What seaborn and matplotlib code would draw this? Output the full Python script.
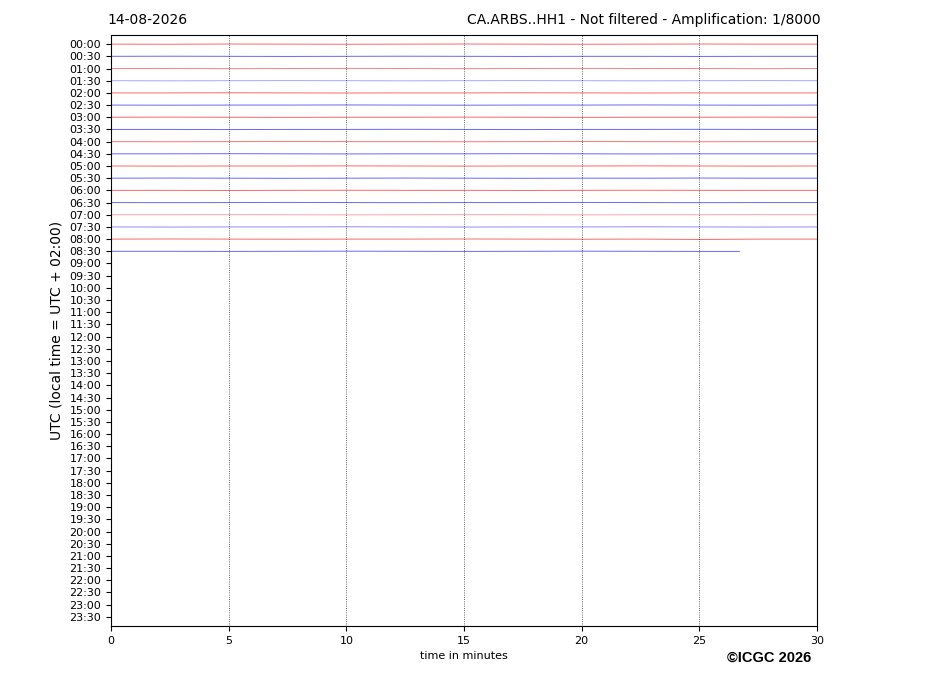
import numpy as np
import pandas as pd
import matplotlib
matplotlib.use("Agg")
import matplotlib.pyplot as plt
import seaborn as sns

# helicorder rows: 30-minute lines starting at 00:00
row_labels = [f"{h:02d}:{m:02d}" for h in range(24) for m in (0, 30)]

# recorded rows (00:00 .. 08:30); the last row stops early
trace_rows = list(range(18))
trace_end = [30.0] * 17 + [26.7]

sample_minutes = [0, 2.5, 5, 7.5, 10, 12.5, 15, 17.5, 20, 22.5, 25, 27.5, 30]
trace_offsets = [
    [0.00, 0.01, -0.01, 0.00, 0.01, 0.00, -0.01, 0.00, 0.01, 0.00, -0.01, 0.00, 0.00],
    [0.00, -0.01, 0.00, 0.01, 0.00, -0.01, 0.00, 0.01, 0.00, 0.00, 0.01, 0.00, 0.00],
    [0.00, 0.00, 0.01, 0.00, -0.01, 0.00, 0.01, 0.00, -0.01, 0.00, 0.00, 0.01, 0.00],
    [0.00, 0.01, 0.00, -0.01, 0.00, 0.01, 0.00, -0.01, 0.00, 0.01, 0.00, -0.01, 0.00],
    [0.00, 0.00, -0.01, 0.00, 0.01, 0.00, 0.00, -0.01, 0.00, 0.01, 0.00, 0.00, 0.00],
    [0.00, 0.01, 0.00, 0.00, -0.01, 0.00, 0.01, 0.00, 0.00, -0.01, 0.00, 0.01, 0.00],
    [0.00, -0.01, 0.00, 0.01, 0.00, 0.00, -0.01, 0.00, 0.01, 0.00, 0.00, -0.01, 0.00],
    [0.00, 0.00, 0.01, 0.00, 0.00, -0.01, 0.00, 0.01, 0.00, 0.00, -0.01, 0.00, 0.00],
    [0.00, 0.01, 0.00, -0.01, 0.00, 0.00, 0.01, 0.00, -0.01, 0.00, 0.01, 0.00, 0.00],
    [0.00, 0.00, -0.01, 0.00, 0.01, 0.00, 0.00, -0.01, 0.00, 0.01, 0.00, 0.00, 0.00],
    [0.00, 0.01, 0.00, 0.00, -0.01, 0.00, 0.01, 0.00, 0.00, -0.01, 0.00, 0.01, 0.00],
    [0.00, -0.01, 0.00, 0.01, 0.00, -0.01, 0.00, 0.01, 0.00, 0.00, -0.01, 0.00, 0.00],
    [0.00, 0.00, 0.01, 0.00, -0.01, 0.00, 0.00, 0.01, 0.00, -0.01, 0.00, 0.00, 0.00],
    [0.00, 0.01, 0.00, -0.01, 0.00, 0.01, 0.00, 0.00, -0.01, 0.00, 0.01, 0.00, 0.00],
    [0.00, 0.00, -0.01, 0.00, 0.01, 0.00, -0.01, 0.00, 0.01, 0.00, 0.00, -0.01, 0.00],
    [0.00, 0.01, 0.00, 0.00, -0.01, 0.00, 0.01, 0.00, 0.00, -0.01, 0.00, 0.01, 0.00],
    [0.00, -0.01, 0.00, 0.01, 0.00, 0.00, -0.01, 0.00, 0.01, 0.00, 0.03, 0.00, 0.00],
    [0.00, 0.00, 0.01, 0.00, -0.01, 0.00, 0.01, 0.00, -0.01, 0.00, 0.01, 0.00, 0.00],
]
trace_alpha = [0.6, 0.6, 0.5, 0.35, 0.6, 0.6, 0.6, 0.6, 0.55,
               0.6, 0.6, 0.6, 0.6, 0.6, 0.35, 0.45, 0.6, 0.6]

# build long table, cutting each row at its end time
records = []
for row, end, offs in zip(trace_rows, trace_end, trace_offsets):
    t = list(sample_minutes)
    y = list(offs)
    while t and t[-1] > end:
        t.pop()
        y.pop()
    if t[-1] < end:
        t.append(end)
        y.append(y[-1])
    for ti, yi in zip(t, y):
        records.append({"row": row, "minute": ti, "y": row + yi})
df = pd.DataFrame(records)

fig = plt.figure(figsize=(9.27, 6.96), dpi=100)
ax = fig.add_axes([111 / 927, 1 - 626 / 696, (817 - 111) / 927, (626 - 35) / 696])

for row in trace_rows:
    color = "red" if row % 2 == 0 else "blue"
    sns.lineplot(data=df[df["row"] == row], x="minute", y="y", ax=ax,
                 color=color, linewidth=0.7, alpha=trace_alpha[row],
                 estimator=None, sort=False)

for m in [5, 10, 15, 20, 25]:
    ax.axvline(m, color="black", linestyle=":", linewidth=0.6, alpha=0.8)

ax.set_xlim(0, 30)
ax.set_ylim(47.75, -0.75)
ax.set_xticks([0, 5, 10, 15, 20, 25, 30])
ax.set_yticks(range(len(row_labels)))
ax.set_yticklabels(row_labels)
ax.tick_params(axis="both", labelsize=8)
ax.set_xlabel("time in minutes", fontsize=8)
ax.set_ylabel("UTC (local time = UTC + 02:00)", fontsize=10)

fig.text(107 / 927, 1 - 20 / 696, "14-08-2026", fontsize=10, va="center", ha="left")
fig.text(821 / 927, 1 - 20 / 696, "CA.ARBS..HH1 - Not filtered - Amplification: 1/8000",
         fontsize=10, va="center", ha="right")
fig.text(811 / 927, 1 - 658 / 696, "\u00a9ICGC 2026", fontsize=10.5, fontweight="bold",
         family="Liberation Sans", va="center", ha="right")

fig.savefig("out.png", dpi=100)
